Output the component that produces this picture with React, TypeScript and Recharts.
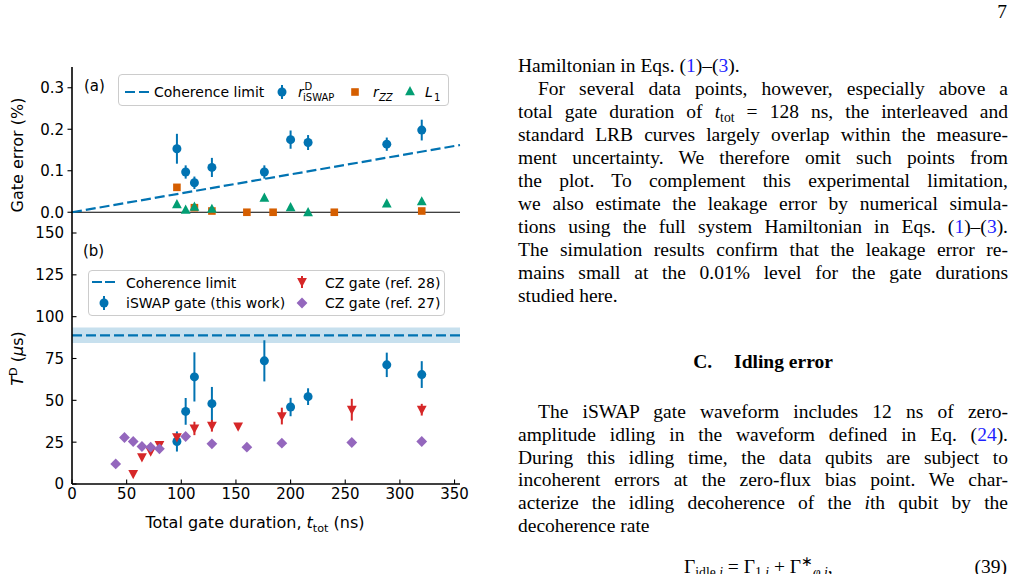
import React from 'react';
import {
  ComposedChart,
  Scatter,
  XAxis,
  YAxis,
  ReferenceLine,
  ReferenceArea,
  ErrorBar,
  Legend,
  Label,
} from 'recharts';

const SANS = '"DejaVu Sans", Verdana, sans-serif';
const SERIF = '"Liberation Serif", "Times New Roman", serif';
const BLUE = '#0173b2';
const ORANGE = '#d55e00';
const GREEN = '#029e73';
const RED = '#d62728';
const PURPLE = '#9467bd';
const LINK = '#1f1fff';

// ---------- shared axis ----------
const xTicks = [0, 50, 100, 150, 200, 250, 300, 350];
const xDomain = [0, 355];

// ---------- panel (a): gate error (%) ----------
const yTicksA = [0, 0.1, 0.2, 0.3];
const yDomainA = [-0.05, 0.35];
const iswapDurA = [96, 104, 112, 128, 176, 200, 216, 288, 320];
const iswapErrPct = [0.153, 0.097, 0.071, 0.108, 0.097, 0.175, 0.168, 0.164, 0.198];
const iswapErrPctUnc = [0.036, 0.016, 0.015, 0.023, 0.016, 0.022, 0.018, 0.016, 0.025];
const rzzDur = [96, 112, 128, 160, 184, 240, 320];
const rzzPct = [0.06, 0.011, 0.003, 0.0, 0.0, 0.0, 0.003];
const l1Dur = [96, 104, 112, 128, 176, 200, 216, 288, 320];
const l1Pct = [0.019, 0.006, 0.013, 0.008, 0.035, 0.012, 0.0, 0.021, 0.026];
const cohLimitADur = [0, 355];
const cohLimitAPct = [0, 0.162];

// ---------- panel (b): T^D (us) ----------
const yTicksB = [0, 25, 50, 75, 100, 125, 150];
const yDomainB = [0, 150];
const iswapDurB = [96, 104, 112, 128, 176, 200, 216, 288, 320];
const iswapTD = [25.4, 43.4, 64, 48, 73.6, 46, 52.2, 71.2, 65.4];
const iswapTDUnc = [6, 8, 14.7, 10, 12.3, 5.5, 5, 7.3, 8];
const cz28Dur = [56, 64, 72, 80, 96, 112, 128, 152, 192, 256, 320];
const cz28TD = [6, 16, 19.4, 23.4, 28, 33.2, 34.8, 34.4, 40.6, 44.4, 44.4];
const cz28Unc = [0, 0, 1.5, 0.8, 1.5, 4, 3.5, 2, 5, 6.5, 3.5];
const cz27Dur = [40, 48, 56, 64, 72, 80, 104, 128, 160, 192, 256, 320];
const cz27TD = [12, 27.8, 25.4, 22.4, 22, 21, 28.4, 24, 22, 24.4, 24.8, 25.4];
const cohLimitB = 88.8;
const cohLimitBLow = 84.2;
const cohLimitBHigh = 93.6;

const pts = (xs: number[], ys: number[], es?: number[]) =>
  xs.map((x, i) => ({ x, y: ys[i], err: es ? es[i] : 0 }));

const dataIswapA = pts(iswapDurA, iswapErrPct, iswapErrPctUnc);
const dataRzz = pts(rzzDur, rzzPct);
const dataL1 = pts(l1Dur, l1Pct);
const dataIswapB = pts(iswapDurB, iswapTD, iswapTDUnc);
const dataCz28 = pts(cz28Dur, cz28TD, cz28Unc);
const dataCz27 = pts(cz27Dur, cz27TD);

// ---------- marker shapes ----------
const circleShape = (c: string) => (p: any) => <circle cx={p.cx} cy={p.cy} r={4.5} fill={c} />;
const squareShape = (c: string) => (p: any) => (
  <rect x={p.cx - 3.8} y={p.cy - 3.8} width={7.6} height={7.6} fill={c} />
);
const triUpShape = (c: string) => (p: any) => (
  <polygon points={`${p.cx},${p.cy - 5.3} ${p.cx + 4.9},${p.cy + 3.9} ${p.cx - 4.9},${p.cy + 3.9}`} fill={c} />
);
const triDownShape = (c: string) => (p: any) => (
  <polygon points={`${p.cx},${p.cy + 5.3} ${p.cx + 4.9},${p.cy - 3.9} ${p.cx - 4.9},${p.cy - 3.9}`} fill={c} />
);
const diamondShape = (c: string) => (p: any) => (
  <polygon points={`${p.cx},${p.cy - 5.4} ${p.cx + 5.4},${p.cy} ${p.cx},${p.cy + 5.4} ${p.cx - 5.4},${p.cy}`} fill={c} />
);

// ---------- ticks ----------
const TL = 4.5;
const TS = { stroke: '#000', strokeWidth: 1.1 };
const FS = 15;
const LFS = 16;
const bottomTick = (label: boolean) => (p: any) => (
  <g>
    <line x1={p.x} x2={p.x} y1={p.y} y2={p.y - TL} {...TS} />
    {label && (
      <text x={p.x} y={p.y + 14.5} textAnchor="middle" fontSize={FS} fontFamily={SANS} fill="#000">
        {p.payload.value}
      </text>
    )}
  </g>
);
const topTick = (p: any) => <line x1={p.x} x2={p.x} y1={p.y} y2={p.y + TL} {...TS} />;
const rightTick = (p: any) => <line x1={p.x} x2={p.x - TL} y1={p.y} y2={p.y} {...TS} />;
const leftTick = (outward: boolean, fmt: (v: number) => string) => (p: any) => (
  <g>
    <line x1={p.x} x2={outward ? p.x - TL : p.x + TL} y1={p.y} y2={p.y} {...TS} />
    <text x={p.x - 8} y={p.y + 5.4} textAnchor="end" fontSize={FS} fontFamily={SANS} fill="#000">
      {fmt(p.payload.value)}
    </text>
  </g>
);

const AX = { stroke: '#000', strokeWidth: 1.6 };

// ---------- legends ----------
const txt = { fontFamily: SANS, fill: '#000' } as const;
const legendBox: React.CSSProperties = {
  position: 'relative',
  boxSizing: 'border-box',
  border: '1px solid #cccccc',
  borderRadius: 4,
  background: 'rgba(255,255,255,0.8)',
};

const LegendA = () => (
  <div style={{ ...legendBox, width: 331, height: 32 }}>
    <svg width={331} height={32} style={{ position: 'absolute', left: -1, top: -1, overflow: 'visible' }}>
      <line x1={7} x2={34} y1={18} y2={18} stroke={BLUE} strokeWidth={2.2} strokeDasharray="10 4" />
      <text x={36} y={23} fontSize={14} {...txt}>Coherence limit</text>
      <line x1={164} x2={164} y1={11} y2={25} stroke={BLUE} strokeWidth={2} />
      <circle cx={164} cy={18} r={4.5} fill={BLUE} />
      <text x={180} y={23} fontSize={14} fontStyle="italic" {...txt}>r</text>
      <text x={186.5} y={16} fontSize={10} {...txt}>D</text>
      <text x={185} y={26.5} fontSize={10} {...txt}>iSWAP</text>
      <rect x={233.2} y={14.2} width={7.6} height={7.6} fill={ORANGE} />
      <text x={255} y={23} fontSize={14} fontStyle="italic" {...txt}>r</text>
      <text x={261} y={26.5} fontSize={10} fontStyle="italic" {...txt}>ZZ</text>
      <polygon points="292,12 296.9,21.2 287.1,21.2" fill={GREEN} />
      <text x={307} y={23} fontSize={14} fontStyle="italic" {...txt}>L</text>
      <text x={316} y={26.5} fontSize={10} {...txt}>1</text>
    </svg>
  </div>
);

const LegendB = () => (
  <div style={{ ...legendBox, width: 357, height: 46 }}>
    <svg width={357} height={46} style={{ position: 'absolute', left: -1, top: -1, overflow: 'visible' }}>
      <line x1={4} x2={27} y1={12} y2={12} stroke={BLUE} strokeWidth={2.2} strokeDasharray="10 3" />
      <text x={38} y={17.5} fontSize={14} {...txt}>Coherence limit</text>
      <line x1={214} x2={214} y1={6} y2={18} stroke={RED} strokeWidth={2} />
      <polygon points="214,17.2 218.9,8.0 209.1,8.0" fill={RED} />
      <text x={237} y={17.5} fontSize={14} {...txt}>CZ gate (ref. 28)</text>
      <line x1={16} x2={16} y1={26} y2={40} stroke={BLUE} strokeWidth={2} />
      <circle cx={16} cy={33} r={4.5} fill={BLUE} />
      <text x={38} y={37.5} fontSize={14} {...txt}>iSWAP gate (this work)</text>
      <polygon points="214,27.6 219.4,33 214,38.4 208.6,33" fill={PURPLE} />
      <text x={237} y={37.5} fontSize={14} {...txt}>CZ gate (ref. 27)</text>
    </svg>
  </div>
);

// ---------- page text ----------
const TextLine = ({
  top,
  children,
  justify = true,
  indent = 0,
}: {
  top: number;
  children: React.ReactNode;
  justify?: boolean;
  indent?: number;
}) => (
  <div
    style={{
      position: 'absolute',
      left: 518 + indent,
      width: 490 - indent,
      top,
      height: 23,
      lineHeight: '22.9px',
      textAlign: justify ? 'justify' : 'left',
      textAlignLast: justify ? 'justify' : 'left',
      whiteSpace: 'nowrap',
    }}
  >
    {children}
  </div>
);
const Sub = ({ children }: { children: React.ReactNode }) => (
  <span style={{ fontSize: '0.7em', position: 'relative', top: '0.3em' }}>{children}</span>
);
const L = ({ children }: { children: React.ReactNode }) => <span style={{ color: LINK }}>{children}</span>;

const P1 = 55.2;
const LH1 = 22.93;
const P2 = 401.2;
const LH2 = 22.67;

export default function App() {
  return (
    <div
      style={{
        position: 'absolute',
        left: 0,
        top: 0,
        width: 1014,
        height: 574,
        overflow: 'hidden',
        background: '#fff',
      }}
    >
      {/* Panel (a) */}
      <div style={{ position: 'absolute', left: 0, top: 0 }}>
        <ComposedChart width={470} height={240} margin={{ top: 67, right: 10, bottom: 7, left: 0 }}>
          <XAxis
            type="number"
            dataKey="x"
            domain={xDomain}
            ticks={xTicks}
            interval={0}
            height={0}
            tickSize={0}
            tickMargin={0}
            tickLine={false}
            tick={bottomTick(false)}
            axisLine={AX}
            allowDataOverflow
          />
          <XAxis
            xAxisId="top"
            orientation="top"
            type="number"
            domain={xDomain}
            ticks={xTicks}
            interval={0}
            height={0}
            tickSize={0}
            tickMargin={0}
            tickLine={false}
            tick={topTick}
            axisLine={AX}
            allowDataOverflow
          />
          <YAxis
            type="number"
            dataKey="y"
            domain={yDomainA}
            ticks={yTicksA}
            interval={0}
            width={72}
            tickSize={0}
            tickMargin={0}
            tickLine={false}
            tick={leftTick(true, (v) => v.toFixed(1))}
            axisLine={AX}
            allowDataOverflow
          >
            <Label
              content={() => (
                <text
                  transform="translate(23,155) rotate(-90)"
                  textAnchor="middle"
                  fontSize={LFS}
                  {...txt}
                >
                  Gate error (%)
                </text>
              )}
            />
          </YAxis>
          <YAxis
            yAxisId="right"
            orientation="right"
            type="number"
            domain={yDomainA}
            ticks={yTicksA}
            interval={0}
            width={0}
            tickSize={0}
            tickMargin={0}
            tickLine={false}
            tick={rightTick}
            axisLine={AX}
            allowDataOverflow
          />
          <ReferenceLine y={0} stroke="#000" strokeWidth={1.2} />
          <ReferenceLine
            segment={[
              { x: cohLimitADur[0], y: cohLimitAPct[0] },
              { x: cohLimitADur[1], y: cohLimitAPct[1] },
            ]}
            stroke={BLUE}
            strokeWidth={2.2}
            strokeDasharray="10 4"
          />
          <Scatter data={dataIswapA} fill={BLUE} shape={circleShape(BLUE)} isAnimationActive={false}>
            <ErrorBar dataKey="err" direction="y" width={0} stroke={BLUE} strokeWidth={2} />
          </Scatter>
          <Scatter data={dataRzz} fill={ORANGE} shape={squareShape(ORANGE)} isAnimationActive={false} />
          <Scatter data={dataL1} fill={GREEN} shape={triUpShape(GREEN)} isAnimationActive={false} />
          <Legend
            layout="vertical"
            align="center"
            verticalAlign="middle"
            wrapperStyle={{ left: 118, top: 74, width: 331, height: 32 }}
            content={() => <LegendA />}
          />
        </ComposedChart>
      </div>

      {/* Panel (b) */}
      <div style={{ position: 'absolute', left: 0, top: 225 }}>
        <ComposedChart width={470} height={315} margin={{ top: 8, right: 10, bottom: 0, left: 0 }}>
          <XAxis
            type="number"
            dataKey="x"
            domain={xDomain}
            ticks={xTicks}
            interval={0}
            height={56}
            tickSize={0}
            tickMargin={0}
            tickLine={false}
            tick={bottomTick(true)}
            axisLine={AX}
            allowDataOverflow
          >
            <Label
              content={() => (
                <text x={255} y={303} textAnchor="middle" fontSize={LFS} {...txt}>
                  Total gate duration,{' '}
                  <tspan fontStyle="italic">t</tspan>
                  <tspan fontSize={11.2} dy={3.5}>tot</tspan>
                  <tspan dy={-3.5}> (ns)</tspan>
                </text>
              )}
            />
          </XAxis>
          <XAxis
            xAxisId="top"
            orientation="top"
            type="number"
            domain={xDomain}
            ticks={xTicks}
            interval={0}
            height={0}
            tickSize={0}
            tickMargin={0}
            tickLine={false}
            tick={topTick}
            axisLine={AX}
            allowDataOverflow
          />
          <YAxis
            type="number"
            dataKey="y"
            domain={yDomainB}
            ticks={yTicksB}
            interval={0}
            width={72}
            tickSize={0}
            tickMargin={0}
            tickLine={false}
            tick={leftTick(false, (v) => String(v))}
            axisLine={AX}
            allowDataOverflow
          >
            <Label
              content={() => (
                <text transform="translate(23,133.5) rotate(-90)" textAnchor="middle" fontSize={LFS} {...txt}>
                  <tspan fontStyle="italic">T</tspan>
                  <tspan fontSize={11.2} dy={-6.5}>D</tspan>
                  <tspan dy={6.5}> (</tspan>
                  <tspan fontStyle="italic">μ</tspan>
                  <tspan>s)</tspan>
                </text>
              )}
            />
          </YAxis>
          <YAxis
            yAxisId="right"
            orientation="right"
            type="number"
            domain={yDomainB}
            ticks={yTicksB}
            interval={0}
            width={0}
            tickSize={0}
            tickMargin={0}
            tickLine={false}
            tick={rightTick}
            axisLine={AX}
            allowDataOverflow
          />
          <ReferenceArea y1={cohLimitBLow} y2={cohLimitBHigh} fill={BLUE} fillOpacity={0.22} stroke="none" />
          <ReferenceLine y={cohLimitB} stroke={BLUE} strokeWidth={2.2} strokeDasharray="10 4" />
          <Scatter data={dataIswapB} fill={BLUE} shape={circleShape(BLUE)} isAnimationActive={false}>
            <ErrorBar dataKey="err" direction="y" width={0} stroke={BLUE} strokeWidth={2} />
          </Scatter>
          <Scatter data={dataCz28} fill={RED} shape={triDownShape(RED)} isAnimationActive={false}>
            <ErrorBar dataKey="err" direction="y" width={0} stroke={RED} strokeWidth={2} />
          </Scatter>
          <Scatter data={dataCz27} fill={PURPLE} shape={diamondShape(PURPLE)} isAnimationActive={false} />
          <Legend
            layout="vertical"
            align="center"
            verticalAlign="middle"
            wrapperStyle={{ left: 88, top: 45, width: 357, height: 46 }}
            content={() => <LegendB />}
          />
        </ComposedChart>
      </div>

      {/* panel tags */}
      <svg width={120} height={280} style={{ position: 'absolute', left: 0, top: 0, pointerEvents: 'none' }}>
        <text x={84} y={91} fontSize={15} {...txt}>(a)</text>
        <text x={83} y={256} fontSize={15} {...txt}>(b)</text>
      </svg>

      {/* right column text */}
      <div style={{ fontFamily: SERIF, fontSize: 19.5, color: '#000' }}>
        <div style={{ position: 'absolute', right: 7, top: 1, lineHeight: '22.9px' }}>7</div>
        <TextLine top={P1} justify={false}>
          Hamiltonian in Eqs. (<L>1</L>)–(<L>3</L>).
        </TextLine>
        <TextLine top={P1 + LH1} indent={20}>
          For several data points, however, especially above a
        </TextLine>
        <TextLine top={P1 + LH1 * 2}>
          total gate duration of <i>t</i>
          <Sub>tot</Sub> = 128 ns, the interleaved and
        </TextLine>
        <TextLine top={P1 + LH1 * 3}>standard LRB curves largely overlap within the measure-</TextLine>
        <TextLine top={P1 + LH1 * 4}>ment uncertainty. We therefore omit such points from</TextLine>
        <TextLine top={P1 + LH1 * 5}>the plot. To complement this experimental limitation,</TextLine>
        <TextLine top={P1 + LH1 * 6}>we also estimate the leakage error by numerical simula-</TextLine>
        <TextLine top={P1 + LH1 * 7}>
          tions using the full system Hamiltonian in Eqs. (<L>1</L>)–(<L>3</L>).
        </TextLine>
        <TextLine top={P1 + LH1 * 8}>The simulation results confirm that the leakage error re-</TextLine>
        <TextLine top={P1 + LH1 * 9}>mains small at the 0.01% level for the gate durations</TextLine>
        <TextLine top={P1 + LH1 * 10} justify={false}>
          studied here.
        </TextLine>

        <div
          style={{
            position: 'absolute',
            left: 518,
            width: 490,
            top: 351.3,
            lineHeight: '22.9px',
            textAlign: 'center',
            fontWeight: 'bold',
          }}
        >
          C.<span style={{ display: 'inline-block', width: 22 }} />
          Idling error
        </div>

        <TextLine top={P2} indent={20}>
          The iSWAP gate waveform includes 12 ns of zero-
        </TextLine>
        <TextLine top={P2 + LH2}>
          amplitude idling in the waveform defined in Eq. (<L>24</L>).
        </TextLine>
        <TextLine top={P2 + LH2 * 2}>During this idling time, the data qubits are subject to</TextLine>
        <TextLine top={P2 + LH2 * 3}>incoherent errors at the zero-flux bias point. We char-</TextLine>
        <TextLine top={P2 + LH2 * 4}>
          acterize the idling decoherence of the <i>i</i>th qubit by the
        </TextLine>
        <TextLine top={P2 + LH2 * 5} justify={false}>
          decoherence rate
        </TextLine>

        <div style={{ position: 'absolute', left: 684, top: 555.5, lineHeight: '22.9px', whiteSpace: 'nowrap' }}>
          Γ<Sub>idle,<i>i</i></Sub> = Γ<Sub>1,<i>i</i></Sub> + Γ
          <span style={{ fontSize: '0.7em', position: 'relative', top: '-0.45em' }}>∗</span>
          <Sub>
            <i>φ,i</i>
          </Sub>
          ,
        </div>
        <div style={{ position: 'absolute', right: 7, top: 555.5, lineHeight: '22.9px' }}>(39)</div>
      </div>
    </div>
  );
}
